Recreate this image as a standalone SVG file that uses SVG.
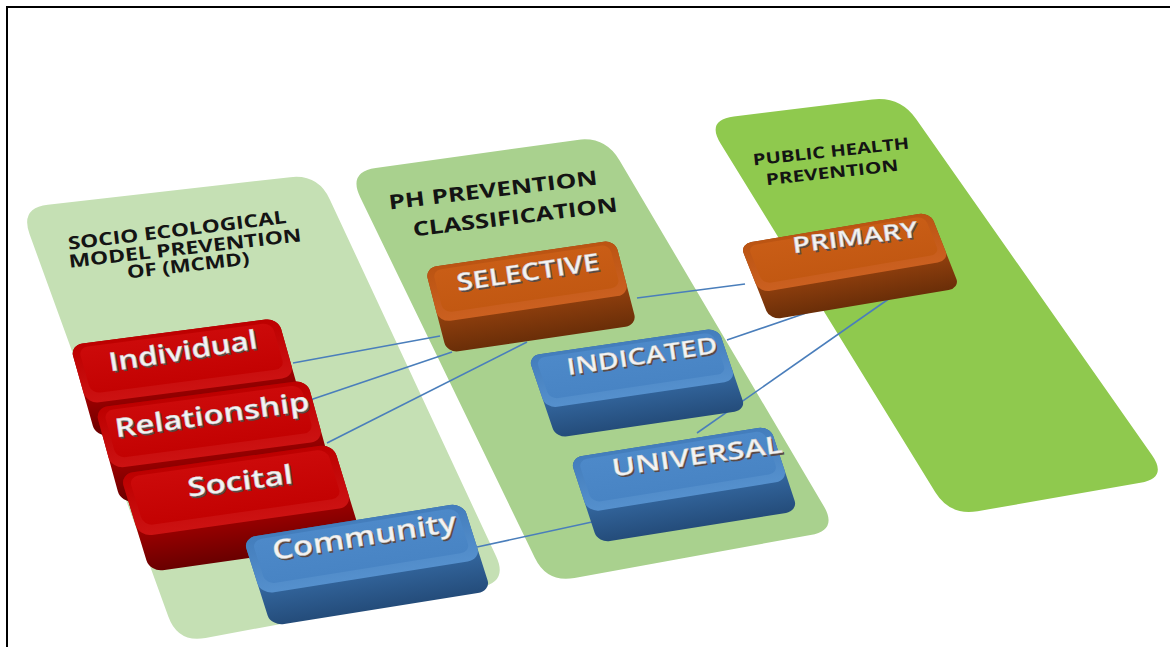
<svg xmlns="http://www.w3.org/2000/svg" width="1170" height="647" viewBox="0 0 1170 647">
<style>
.hd{font-family:"Open Sans","Liberation Sans",sans-serif;font-weight:700;fill:#141414;text-anchor:middle}
.kt{font-family:"Open Sans","Liberation Sans",sans-serif;font-weight:600;text-anchor:middle}
.ksh{fill:#5a4b47}
.ktx{fill:#f3f3f3;stroke:#c9c9c9;stroke-width:0.4}
.conn{fill:none;stroke:#4a7ebb;stroke-width:1.6}
</style>
<defs>
<linearGradient id="redF" x1="0" y1="0" x2="0" y2="1"><stop offset="0.55" stop-color="#a00000"/><stop offset="1" stop-color="#690000"/></linearGradient>
<linearGradient id="redB" x1="0" y1="0" x2="0" y2="1"><stop offset="0" stop-color="#bd0000"/><stop offset="1" stop-color="#cc1212"/></linearGradient>
<linearGradient id="redT" x1="0" y1="0" x2="0" y2="1"><stop offset="0" stop-color="#cc0a0a"/><stop offset="1" stop-color="#c30202"/></linearGradient>
<linearGradient id="orF" x1="0" y1="0" x2="0" y2="1"><stop offset="0.55" stop-color="#92400e"/><stop offset="1" stop-color="#6a2e08"/></linearGradient>
<linearGradient id="orB" x1="0" y1="0" x2="0" y2="1"><stop offset="0" stop-color="#bb5412"/><stop offset="1" stop-color="#cb6020"/></linearGradient>
<linearGradient id="orT" x1="0" y1="0" x2="0" y2="1"><stop offset="0" stop-color="#c95d16"/><stop offset="1" stop-color="#c25812"/></linearGradient>
<linearGradient id="blF" x1="0" y1="0" x2="0" y2="1"><stop offset="0.55" stop-color="#34679f"/><stop offset="1" stop-color="#244c7a"/></linearGradient>
<linearGradient id="blB" x1="0" y1="0" x2="0" y2="1"><stop offset="0" stop-color="#437dbc"/><stop offset="1" stop-color="#5590cd"/></linearGradient>
<linearGradient id="blT" x1="0" y1="0" x2="0" y2="1"><stop offset="0" stop-color="#4d89c9"/><stop offset="1" stop-color="#4884c4"/></linearGradient>
</defs>
<rect width="1170" height="647" fill="#ffffff"/>
<path d="M7,647 V7 H1170" fill="none" stroke="#000" stroke-width="2"/>

<g id="panel-socio">
<path d="M47.8,204.8 L290.2,177.2 Q318,174 329.8,199.4 L496.2,556.6 Q508,582 480.5,587.1 L205.5,637.9 Q178,643 168.4,616.7 L29.6,234.3 Q20,208 47.8,204.8 Z" fill="#c5e0b4"/>
<text class="hd" font-size="18" textLength="220" lengthAdjust="spacingAndGlyphs" transform="translate(177,230) rotate(-7)" y="6.5">SOCIO ECOLOGICAL</text>
<text class="hd" font-size="18" textLength="234" lengthAdjust="spacingAndGlyphs" transform="translate(185,248) rotate(-6.5)" y="6.5">MODEL PREVENTION</text>
<text class="hd" font-size="18" textLength="123" lengthAdjust="spacingAndGlyphs" transform="translate(188,265) rotate(-6.5)" y="6.5">OF (MCMD)</text>
</g>

<g id="panel-ph">
<path d="M375.7,168.1 L577.3,139.9 Q605,136 619.3,160.1 L823.7,505.9 Q838,530 810.5,535 L574.5,578 Q547,583 534.8,557.8 L360.2,197.2 Q348,172 375.7,168.1 Z" fill="#a9d18e"/>
<text class="hd" font-size="20" textLength="210" lengthAdjust="spacingAndGlyphs" transform="translate(493,190) rotate(-6.8)" y="7">PH PREVENTION</text>
<text class="hd" font-size="20" textLength="206" lengthAdjust="spacingAndGlyphs" transform="translate(515,217) rotate(-7)" y="7">CLASSIFICATION</text>
</g>

<g id="panel-public">
<path d="M733.8,116.6 L872.2,99.4 Q900,96 916.1,118.9 L1151.9,455.1 Q1168,478 1140.4,482.8 L977.6,511.2 Q950,516 935.3,492.2 L720.7,143.8 Q706,120 733.8,116.6 Z" fill="#8fc94e"/>
<text class="hd" font-size="16" textLength="157" lengthAdjust="spacingAndGlyphs" transform="translate(831,151) rotate(-6.2)" y="6">PUBLIC HEALTH</text>
<text class="hd" font-size="16" textLength="133" lengthAdjust="spacingAndGlyphs" transform="translate(832,172) rotate(-6.2)" y="6">PREVENTION</text>
</g>

<g id="connectors">
<line class="conn" x1="293" y1="363" x2="440" y2="336"/>
<line class="conn" x1="310" y1="400" x2="452" y2="352"/>
<line class="conn" x1="327" y1="443" x2="527" y2="342"/>
<line class="conn" x1="477" y1="547" x2="592" y2="522"/>
<line class="conn" x1="697" y1="433" x2="890" y2="298"/>
<line class="conn" x1="727" y1="340" x2="812" y2="311"/>
<line class="conn" x1="637" y1="298" x2="745" y2="284"/>
</g>

<g id="individual">
<g transform="matrix(1.04,-0.135,0.26,0.92,70,345)">
<rect width="200" height="100" rx="12" fill="url(#redF)"/>
<rect width="200" height="64" rx="12" fill="url(#redB)"/>
<rect x="7" y="4" width="186" height="50" rx="9" fill="url(#redT)"/>
</g>
<g class="kt" font-size="26" transform="translate(183,351) rotate(-9)">
<text class="ksh" x="1.5" y="11" textLength="150" lengthAdjust="spacingAndGlyphs">Individual</text>
<text class="ktx" y="9" textLength="150" lengthAdjust="spacingAndGlyphs">Individual</text>
</g>
</g>

<g id="relationship">
<g transform="matrix(1.06,-0.14,0.26,0.95,95,408)">
<rect width="200" height="100" rx="12" fill="url(#redF)"/>
<rect width="200" height="64" rx="12" fill="url(#redB)"/>
<rect x="7" y="4" width="186" height="50" rx="9" fill="url(#redT)"/>
</g>
<g class="kt" font-size="26" transform="translate(212,415) rotate(-8)">
<text class="ksh" x="1.5" y="11" textLength="196" lengthAdjust="spacingAndGlyphs">Relationship</text>
<text class="ktx" y="9" textLength="196" lengthAdjust="spacingAndGlyphs">Relationship</text>
</g>
</g>

<g id="socital">
<g transform="matrix(1.065,-0.15,0.30,0.98,120,474)">
<rect width="200" height="100" rx="12" fill="url(#redF)"/>
<rect width="200" height="64" rx="12" fill="url(#redB)"/>
<rect x="7" y="4" width="186" height="50" rx="9" fill="url(#redT)"/>
</g>
<g class="kt" font-size="26" transform="translate(240,481) rotate(-7.5)">
<text class="ksh" x="1.5" y="11" textLength="106" lengthAdjust="spacingAndGlyphs">Socital</text>
<text class="ktx" y="9" textLength="106" lengthAdjust="spacingAndGlyphs">Socital</text>
</g>
</g>

<g id="community">
<g transform="matrix(1.10,-0.175,0.28,0.88,243,538)">
<rect width="200" height="100" rx="12" fill="url(#blF)"/>
<rect width="200" height="64" rx="12" fill="url(#blB)"/>
<rect x="7" y="4" width="186" height="50" rx="9" fill="url(#blT)"/>
</g>
<g class="kt" font-size="27" transform="translate(364,536) rotate(-9)">
<text class="ksh" x="1.5" y="11.5" textLength="186" lengthAdjust="spacingAndGlyphs">Community</text>
<text class="ktx" y="9.5" textLength="186" lengthAdjust="spacingAndGlyphs">Community</text>
</g>
</g>

<g id="selective">
<g transform="matrix(0.95,-0.14,0.22,0.85,425,268)">
<rect width="200" height="100" rx="12" fill="url(#orF)"/>
<rect width="200" height="64" rx="12" fill="url(#orB)"/>
<rect x="7" y="4" width="186" height="50" rx="9" fill="url(#orT)"/>
</g>
<g class="kt" font-size="24" transform="translate(528,272) rotate(-8.5)">
<text class="ksh" x="1.5" y="10.5" textLength="144" lengthAdjust="spacingAndGlyphs">SELECTIVE</text>
<text class="ktx" y="8.5" textLength="144" lengthAdjust="spacingAndGlyphs">SELECTIVE</text>
</g>
</g>

<g id="indicated">
<g transform="matrix(0.95,-0.14,0.28,0.82,528,356)">
<rect width="200" height="100" rx="12" fill="url(#blF)"/>
<rect width="200" height="64" rx="12" fill="url(#blB)"/>
<rect x="7" y="4" width="186" height="50" rx="9" fill="url(#blT)"/>
</g>
<g class="kt" font-size="23" transform="translate(642,356) rotate(-8.5)">
<text class="ksh" x="1.5" y="10" textLength="152" lengthAdjust="spacingAndGlyphs">INDICATED</text>
<text class="ktx" y="8" textLength="152" lengthAdjust="spacingAndGlyphs">INDICATED</text>
</g>
</g>

<g id="universal">
<g transform="matrix(1.0,-0.16,0.28,0.85,570,458)">
<rect width="200" height="100" rx="12" fill="url(#blF)"/>
<rect width="200" height="64" rx="12" fill="url(#blB)"/>
<rect x="7" y="4" width="186" height="50" rx="9" fill="url(#blT)"/>
</g>
<g class="kt" font-size="24" transform="translate(697,456) rotate(-8)">
<text class="ksh" x="1.5" y="10.5" textLength="172" lengthAdjust="spacingAndGlyphs">UNIVERSAL</text>
<text class="ktx" y="8.5" textLength="172" lengthAdjust="spacingAndGlyphs">UNIVERSAL</text>
</g>
</g>

<g id="primary">
<g transform="matrix(0.95,-0.16,0.30,0.76,740,244)">
<rect width="200" height="100" rx="12" fill="url(#orF)"/>
<rect width="200" height="64" rx="12" fill="url(#orB)"/>
<rect x="7" y="4" width="186" height="50" rx="9" fill="url(#orT)"/>
</g>
<g class="kt" font-size="22" transform="translate(855,237) rotate(-7.5)">
<text class="ksh" x="1.5" y="10" textLength="126" lengthAdjust="spacingAndGlyphs">PRIMARY</text>
<text class="ktx" y="8" textLength="126" lengthAdjust="spacingAndGlyphs">PRIMARY</text>
</g>
</g>
</svg>
